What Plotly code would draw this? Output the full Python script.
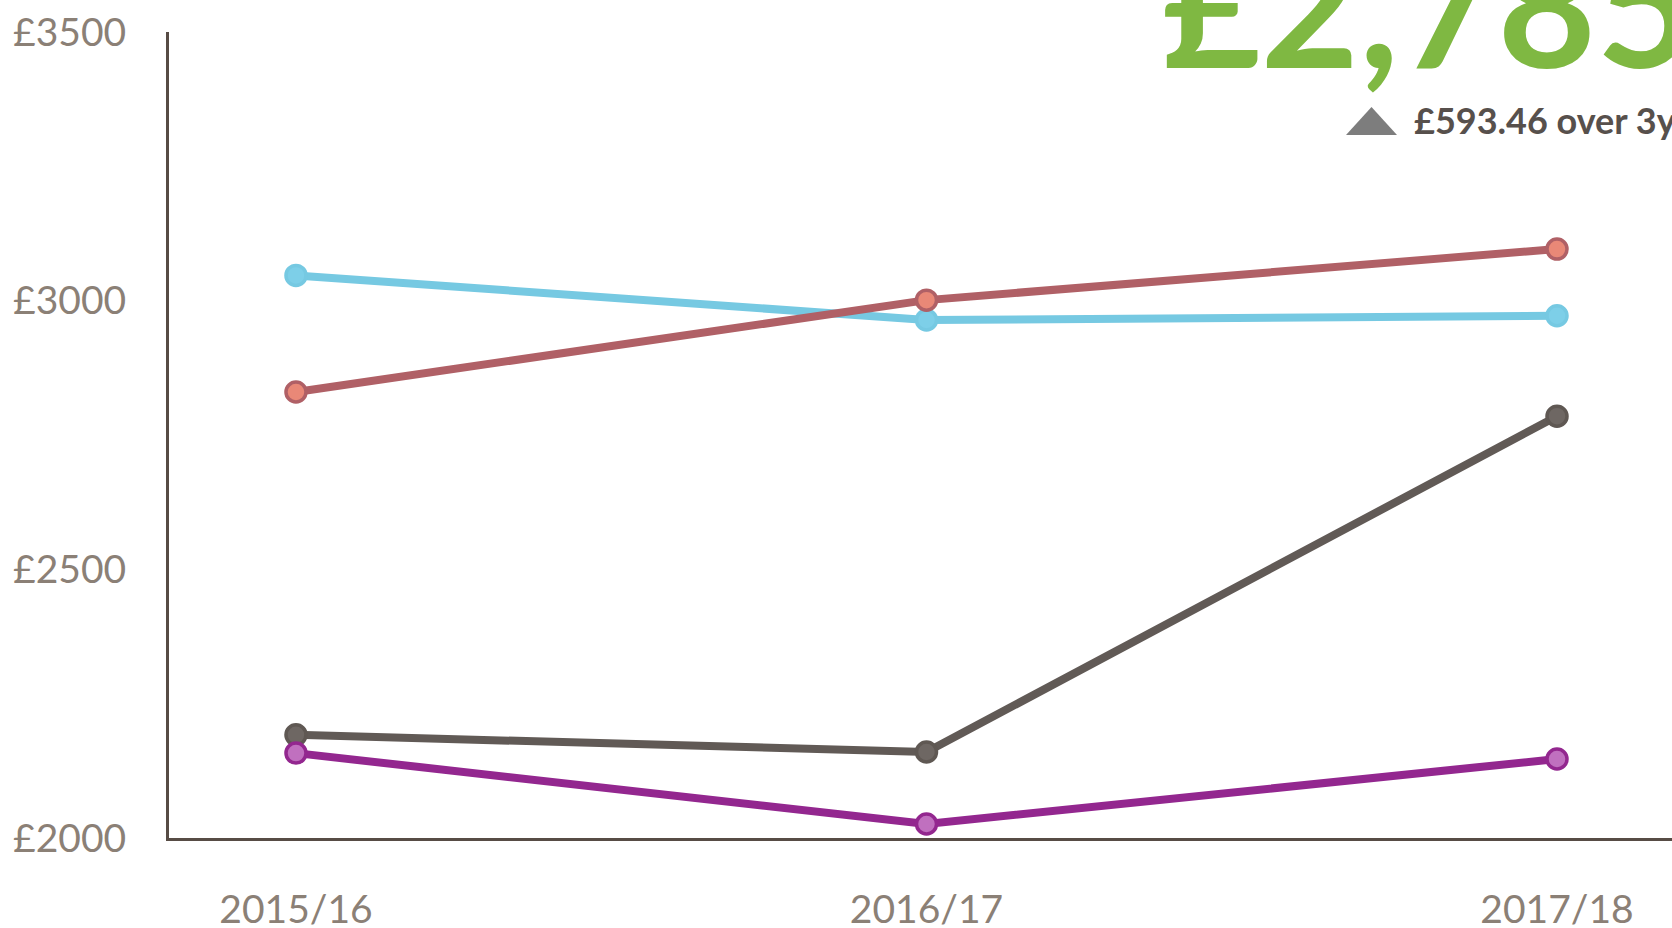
import plotly.graph_objects as go

years = ["2015/16", "2016/17", "2017/18"]
series_names = ["Series A", "Series B", "Series C", "Series D"]
blue_vals = [3047, 2964, 2972]
red_vals = [2830, 3001, 3096]
dark_vals = [2192, 2160, 2785]
purple_vals = [2158, 2026, 2147]
y_tickvals = [2000, 2500, 3000, 3500]
y_ticktext = ["£2000", "£2500", "£3000", "£3500"]
headline = "£2,785"
change_text = "£593.46 over 3yrs"

W, H = 1672, 928
L, R, T, B = 169, 0, 32, 90
pw, ph = W - L - R, H - T - B

def px(x):
    return (x - L) / pw

def py(y):
    return (H - B - y) / ph

styles = [
    (blue_vals, "#76c9e2", "#7dcfe8", "#76c9e2"),
    (red_vals, "#b06066", "#e98877", "#b06066"),
    (dark_vals, "#615a56", "#6e6763", "#5f5853"),
    (purple_vals, "#93278f", "#c070bf", "#93278f"),
]

xs = list(range(len(years)))
fig = go.Figure()
for (vals, lc, mf, ml), name in zip(styles, series_names):
    fig.add_trace(go.Scatter(
        x=xs, y=vals, mode="lines+markers", name=name,
        line=dict(color=lc, width=8),
        marker=dict(size=20, color=mf, line=dict(color=ml, width=3.5)),
        cliponaxis=False,
    ))

fig.update_layout(
    width=W, height=H,
    margin=dict(l=L, r=R, t=T, b=B, autoexpand=False),
    paper_bgcolor="white", plot_bgcolor="white",
    showlegend=False,
    xaxis=dict(
        range=[-0.2014, 2.1824], tickvals=xs, ticktext=years,
        showgrid=False, zeroline=False, showline=True, automargin=False,
        linecolor="#574c45", linewidth=3, ticks="",
        tickfont=dict(family="Lato", size=39, color="#8b8076", weight=400),
        ticklabelstandoff=35,
    ),
    yaxis=dict(
        range=[2000, 3500], tickvals=y_tickvals, ticktext=y_ticktext,
        showgrid=False, zeroline=False, showline=True, automargin=False,
        linecolor="#574c45", linewidth=3, ticks="",
        tickfont=dict(family="Lato", size=39, color="#8b8076", weight=400),
        ticklabelstandoff=32,
    ),
    annotations=[
        dict(text=headline, xref="paper", yref="paper",
             x=px(1160), y=py(2), xanchor="left", yanchor="middle",
             showarrow=False,
             font=dict(family="Lato", size=170, color="#7fb842", weight="bold")),
        dict(text=change_text, xref="paper", yref="paper",
             x=px(1412), y=py(120), xanchor="left", yanchor="middle",
             showarrow=False,
             font=dict(family="Lato", size=36, color="#57504c", weight="bold")),
    ],
    shapes=[
        dict(type="path", xref="paper", yref="paper",
             path=f"M {px(1346)} {py(135)} L {px(1397)} {py(135)} L {px(1371.5)} {py(107)} Z",
             fillcolor="#7d7d7d", line=dict(width=0)),
    ],
)

fig.write_html("out.html", config={"displayModeBar": False},
               post_script="document.body.style.margin='0px';document.body.style.overflow='hidden';")
